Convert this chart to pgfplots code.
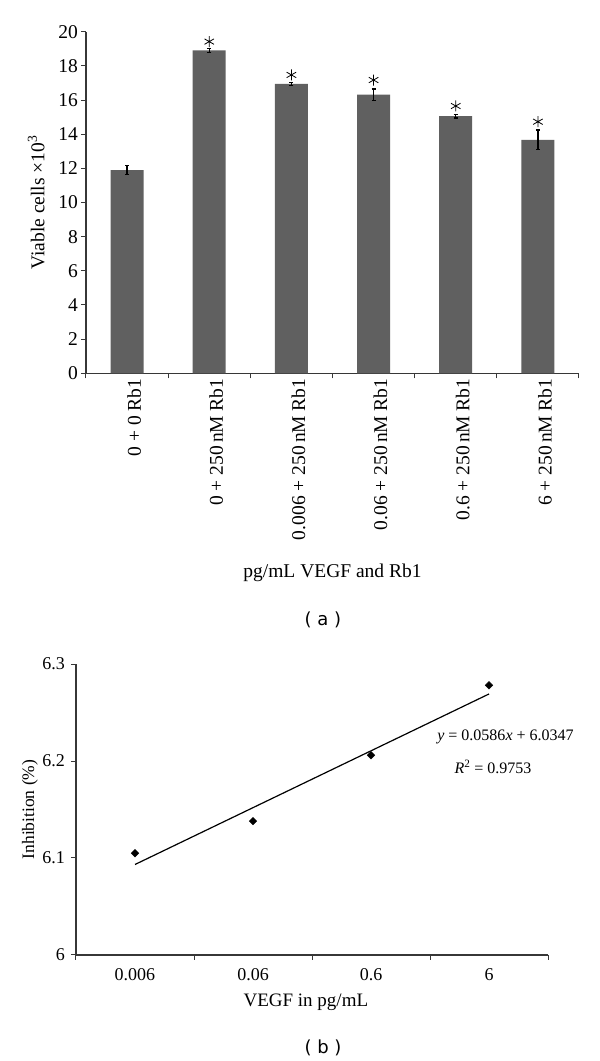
\documentclass[border=0pt]{standalone}
\usepackage{fontspec}
\setmainfont{Liberation Serif}
\newfontfamily\sansf{DejaVu Sans}
\usepackage{pgfplots}
\pgfplotsset{compat=1.18}
\definecolor{bargray}{RGB}{96,96,96}
\definecolor{axgray}{RGB}{55,55,55}
\begin{document}
\begin{tikzpicture}[x=1pt,y=1pt]
\path[use as bounding box] (0,0) rectangle (600,1061);
% ---------------- panel (a)
\begin{axis}[
  at={(86pt,687.7pt)}, anchor=south west,
  scale only axis, width=493pt, height=341.6pt,
  xmin=-0.5, xmax=5.5, ymin=0, ymax=20,
  axis x line=bottom, axis y line=left,
  axis line style={-, axgray, line width=1.2pt},
  /pgf/number format/assume math mode=true,
  ytick={0,2,...,20},
  xtick={0,...,5},
  xticklabels={0 + 0 Rb1, 0 + 250\,nM Rb1, 0.006 + 250\,nM Rb1, 0.06 + 250\,nM Rb1, 0.6 + 250\,nM Rb1, 6 + 250\,nM Rb1},
  minor xtick={-0.5,0.5,...,5.5},
  major x tick style={draw=none},
  minor x tick style={axgray, line width=1pt},
  ytick style={axgray, line width=1pt},
  tick align=outside,
  major tick length=5pt, minor tick length=5pt,
  ticklabel style={font=\fontsize{19.5}{19.5}\selectfont},
  xticklabel style={rotate=90, anchor=east, inner sep=0pt, yshift=-7pt},
  yticklabel style={inner sep=0pt, xshift=-3pt},
  ylabel={Viable cells ×10\textsuperscript{3}},
  ylabel style={font=\fontsize{19.5}{19.5}\selectfont, at={(axis description cs:-0.101,0.5)}, anchor=center},
  xlabel={pg/mL VEGF and Rb1},
  xlabel style={font=\fontsize{19.5}{19.5}\selectfont, at={(axis description cs:0.5,-0.5846)}, anchor=center},
  clip=false,
]
\addplot[ybar, bar width=33pt, fill=bargray, draw=none,
  error bars/.cd, y dir=both, y explicit,
  error bar style={black, line width=1.2pt},
  error mark options={rotate=90, mark size=2pt, line width=1.2pt, black}]
coordinates {
(0,11.90) +- (0,0.25)
(1,18.91) +- (0,0.11)
(2,16.94) +- (0,0.07)
(3,16.31) +- (0,0.33)
(4,15.05) +- (0,0.10)
(5,13.66) +- (0,0.58)
};
\addplot[only marks, mark=asterisk, mark size=5.5pt, mark options={black, line width=0.8pt}]
coordinates {(1,19.42) (2,17.47) (3,17.17) (4,15.65) (5,14.73)};
\end{axis}
\node[font=\sansf\fontsize{18}{18}\selectfont] at (323,441) {( a )};
% ---------------- panel (b)
\begin{axis}[
  at={(76pt,106pt)}, anchor=south west,
  scale only axis, width=472pt, height=291pt,
  xmin=0.5, xmax=4.5, ymin=6, ymax=6.3,
  axis x line=bottom, axis y line=left,
  axis line style={-, axgray, line width=1.2pt},
  /pgf/number format/assume math mode=true,
  ytick={6,6.1,6.2,6.3},
  yticklabels={6,6.1,6.2,6.3},
  xtick={1,2,3,4},
  xticklabels={0.006,0.06,0.6,6},
  minor xtick={0.5,1.5,...,4.5},
  major x tick style={draw=none},
  minor x tick style={axgray, line width=1pt},
  ytick style={axgray, line width=1pt},
  tick align=outside,
  major tick length=5pt, minor tick length=5pt,
  ticklabel style={font=\fontsize{18}{18}\selectfont},
  xticklabel style={inner sep=0pt, yshift=-8pt},
  yticklabel style={inner sep=0pt, xshift=-6pt},
  ylabel={Inhibition (\%)},
  ylabel style={font=\fontsize{17.5}{17.5}\selectfont, at={(axis description cs:-0.0975,0.5)}, anchor=center},
  xlabel={VEGF in pg/mL},
  xlabel style={font=\fontsize{19}{19}\selectfont, at={(axis description cs:0.487,-0.1615)}, anchor=center},
  clip=false,
]
\addplot[black, line width=1.2pt] coordinates {(1,6.0933) (4,6.2691)};
\addplot[only marks, mark=square*, mark size=2.7pt, mark options={rotate=45, black}]
coordinates {(1,6.105) (2,6.138) (3,6.206) (4,6.278)};
\end{axis}
\node[font=\fontsize{16}{16}\selectfont] at (505.5,324) {\textit{y} = 0.0586\textit{x} + 6.0347};
\node[font=\fontsize{16}{16}\selectfont] at (493,294) {\textit{R}\textsuperscript{2} = 0.9753};
\node[font=\sansf\fontsize{18}{18}\selectfont] at (323,13) {( b )};
\end{tikzpicture}
\end{document}
